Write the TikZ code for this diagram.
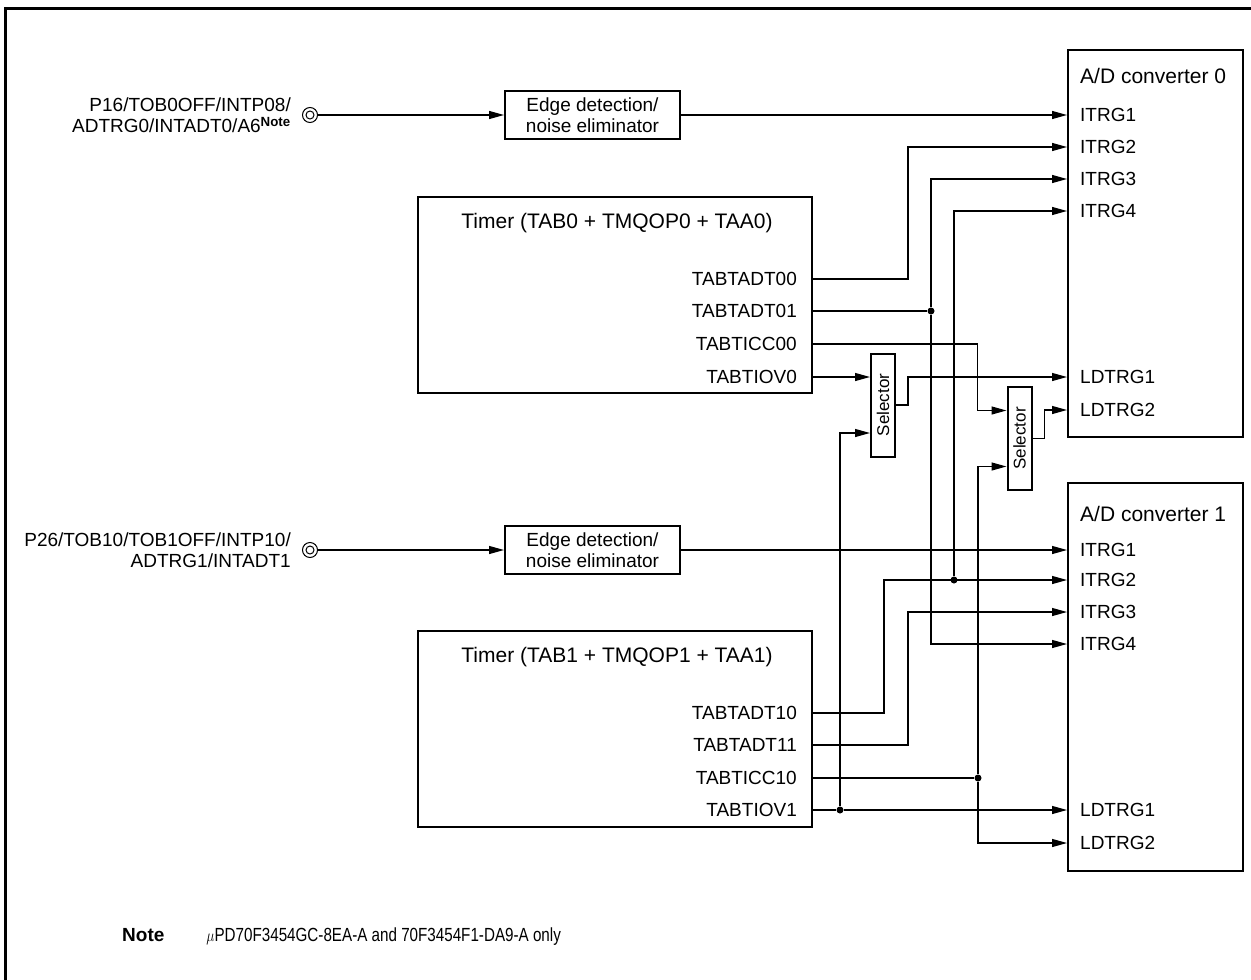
\documentclass[tikz,border=0pt]{standalone}
\usepackage{fontspec}
\usepackage{graphicx}
\setmainfont{Liberation Sans}
\usetikzlibrary{arrows.meta,positioning,calc}
\tikzset{
  blockbox/.style={draw,line width=2pt,inner sep=0pt},
  pinlabel/.style={anchor=east,align=right,inner sep=0pt,
                   font=\fontsize{19}{21}\selectfont},
  portlabel/.style={inner sep=0pt,font=\fontsize{19}{21}\selectfont},
  titlelabel/.style={inner sep=0pt,font=\fontsize{21}{24}\selectfont},
  pinring/.style={draw,circle,line width=1pt,minimum size=15pt,inner sep=0pt,
                  path picture={\draw[line width=1pt]
                    (path picture bounding box.center) circle (4pt);}},
  wire/.style={line width=1.2pt},
  sigarr/.style={wire,-{Triangle[length=15pt,width=8pt]}},
  junction/.style={circle,fill,inner sep=0pt,minimum size=7pt}
}

\begin{document}
\begin{tikzpicture}[x=1pt,y=-1pt]
  \useasboundingbox (0,0) rectangle (1251,980);
  \draw[line width=3pt] (5,1000) -- (5,8) -- (1270,8);

  % external pins
  \node[pinring] (pin0) at (310,115) {};
  \node[pinlabel] (pin0lbl) at (291,115)
    {P16/TOB0OFF/INTP08/\\ADTRG0/INTADT0/A6\textsuperscript{\textbf{Note}}};
  \node[pinring] (pin1) at (310,550) {};
  \node[pinlabel] (pin1lbl) at (291,550)
    {P26/TOB10/TOB1OFF/INTP10/\\ADTRG1/INTADT1};

  \node[blockbox,minimum width=175pt,minimum height=48pt,align=center,
        font=\fontsize{19}{21}\selectfont] (edge0) at (592.5,115)
    {Edge detection/\\noise eliminator};
  \node[blockbox,minimum width=175pt,minimum height=48pt,align=center,
        font=\fontsize{19}{21}\selectfont] (edge1) at (592.5,550)
    {Edge detection/\\noise eliminator};

  % timers
  \node[blockbox,minimum width=394pt,minimum height=196pt] (tmr0) at (615,295) {};
  \node[titlelabel] (tmr0ttl) at (617,223) {Timer (TAB0 + TMQOP0 + TAA0)};
  \node[portlabel,anchor=east] (tadt00) at (797,279) {TABTADT00};
  \node[portlabel,anchor=east] (tadt01) at (797,311) {TABTADT01};
  \node[portlabel,anchor=east] (ticc00) at (797,344) {TABTICC00};
  \node[portlabel,anchor=east] (tiov0) at (797,377) {TABTIOV0};

  \node[blockbox,minimum width=394pt,minimum height=196pt] (tmr1) at (615,729) {};
  \node[titlelabel] (tmr1ttl) at (617,657) {Timer (TAB1 + TMQOP1 + TAA1)};
  \node[portlabel,anchor=east] (tadt10) at (797,713) {TABTADT10};
  \node[portlabel,anchor=east] (tadt11) at (797,745) {TABTADT11};
  \node[portlabel,anchor=east] (ticc10) at (797,778) {TABTICC10};
  \node[portlabel,anchor=east] (tiov1) at (797,810) {TABTIOV1};

  % selectors
  \node[blockbox,minimum width=24pt,minimum height=103pt,
        font=\fontsize{17}{19}\selectfont] (sel1) at (883,405)
    {\rotatebox{90}{Selector}};
  \node[blockbox,minimum width=24pt,minimum height=103pt,
        font=\fontsize{17}{19}\selectfont] (sel2) at (1019.5,438.5)
    {\rotatebox{90}{Selector}};

  % A/D converters
  \node[blockbox,minimum width=175pt,minimum height=387pt] (adc0) at (1155.5,243.5) {};
  \node[titlelabel,anchor=west] (adc0ttl) at (1080,76) {A/D converter 0};
  \node[portlabel,anchor=west] (a0itrg1) at (1080,115) {ITRG1};
  \node[portlabel,anchor=west] (a0itrg2) at (1080,147) {ITRG2};
  \node[portlabel,anchor=west] (a0itrg3) at (1080,179) {ITRG3};
  \node[portlabel,anchor=west] (a0itrg4) at (1080,211) {ITRG4};
  \node[portlabel,anchor=west] (a0ldtrg1) at (1080,377) {LDTRG1};
  \node[portlabel,anchor=west] (a0ldtrg2) at (1080,410) {LDTRG2};

  \node[blockbox,minimum width=175pt,minimum height=388pt] (adc1) at (1155.5,677) {};
  \node[titlelabel,anchor=west] (adc1ttl) at (1080,514) {A/D converter 1};
  \node[portlabel,anchor=west] (a1itrg1) at (1080,550) {ITRG1};
  \node[portlabel,anchor=west] (a1itrg2) at (1080,580) {ITRG2};
  \node[portlabel,anchor=west] (a1itrg3) at (1080,612) {ITRG3};
  \node[portlabel,anchor=west] (a1itrg4) at (1080,644) {ITRG4};
  \node[portlabel,anchor=west] (a1ldtrg1) at (1080,810) {LDTRG1};
  \node[portlabel,anchor=west] (a1ldtrg2) at (1080,843) {LDTRG2};

  % junctions
  \node[junction] (j01) at (931,311) {};
  \node[junction] (j10) at (954,580) {};
  \node[junction] (j11) at (978,778) {};
  \node[junction] (j12) at (840,810) {};

  % wiring
  \draw[sigarr] (pin0) -- (edge0);
  \draw[sigarr] (edge0) -- (adc0.west |- a0itrg1);
  \draw[sigarr] (pin1) -- (edge1);
  \draw[sigarr] (edge1) -- (adc1.west |- a1itrg1);

  \draw[sigarr] (tmr0.east |- tadt00) -- ++(95,0) |- (adc0.west |- a0itrg2);
  \draw[wire] (tmr0.east |- tadt01) -- (j01);
  \draw[sigarr] (j01) |- (adc0.west |- a0itrg3);
  \draw[sigarr] (j01) |- (adc1.west |- a1itrg4);
  \draw[sigarr] (tmr0.east |- ticc00) -| ($(sel2.west)+(-29,-28)$) -- ($(sel2.west)+(0,-28)$);
  \draw[sigarr] (tmr0.east |- tiov0) -- (sel1.west |- tiov0);
  \draw[sigarr] (sel1.east) -- ++(12,0) |- (adc0.west |- a0ldtrg1);
  \draw[sigarr] (sel2.east) -- ++(12,0) |- (adc0.west |- a0ldtrg2);

  \draw[sigarr] (tmr1.east |- tadt10) -- ++(71,0) |- (adc1.west |- a1itrg2);
  \draw[sigarr] (j10) |- (adc0.west |- a0itrg4);
  \draw[sigarr] (tmr1.east |- tadt11) -- ++(95,0) |- (adc1.west |- a1itrg3);
  \draw[wire] (tmr1.east |- ticc10) -- (j11);
  \draw[sigarr] (j11) |- ($(sel2.west)+(0,28)$);
  \draw[sigarr] (j11) |- (adc1.west |- a1ldtrg2);
  \draw[wire] (tmr1.east |- tiov1) -- (j12);
  \draw[sigarr] (j12) -- (adc1.west |- a1ldtrg1);
  \draw[sigarr] (j12) |- ($(sel1.west)+(0,28)$);

  % note
  \node[anchor=west,inner sep=0pt,font=\fontsize{19}{21}\selectfont] (note) at (122,937)
    {\textbf{Note}\hspace{42pt}\scalebox{0.8}[1]{$\mu$PD70F3454GC-8EA-A and 70F3454F1-DA9-A only}};
\end{tikzpicture}
\end{document}
